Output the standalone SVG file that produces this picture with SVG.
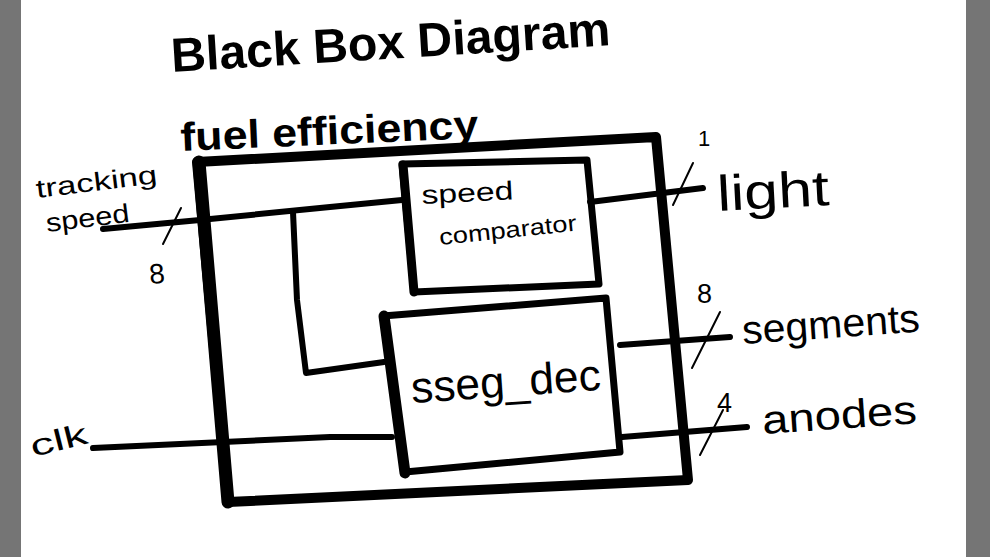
<svg xmlns="http://www.w3.org/2000/svg" width="990" height="557" viewBox="0 0 990 557">
<style>
.box{fill:none;stroke:#000;stroke-linejoin:round;stroke-linecap:round}
.wire{fill:none;stroke:#000;stroke-width:6;stroke-linecap:round;stroke-linejoin:round}
.tick{fill:none;stroke:#000;stroke-width:2;stroke-linecap:round}
.hand{font-family:"Liberation Sans","DejaVu Sans",sans-serif;fill:#000}
.bold{font-weight:bold}
</style>
<rect x="0" y="0" width="990" height="557" fill="#ffffff"/>
<rect x="0" y="0" width="21" height="557" fill="#757575"/>
<rect x="966" y="0" width="24" height="557" fill="#757575"/>

<text class="hand bold" x="172" y="72" font-size="48" textLength="440" lengthAdjust="spacingAndGlyphs" transform="rotate(-3.5 172 72)">Black Box Diagram</text>

<g id="fuel_efficiency">
<path class="box" d="M197,162 L656,137 L688,480 L228,502 Z" stroke-width="10"/>
<path class="box" d="M199,162 L228,502" stroke-width="13"/>
<text class="hand bold" x="181" y="151" font-size="40" textLength="298" lengthAdjust="spacingAndGlyphs" transform="rotate(-2.5 181 151)">fuel efficiency</text>
</g>

<g id="speed_comparator">
<path class="box" d="M402,164 L587,160 L599,284 L414,292 Z" stroke-width="7"/>
<path class="box" d="M403,165 L414,292" stroke-width="9"/>
<text class="hand" x="422" y="204" font-size="26" textLength="92" lengthAdjust="spacingAndGlyphs" transform="rotate(-3 422 204)">speed</text>
<text class="hand" x="440" y="245" font-size="23" textLength="138" lengthAdjust="spacingAndGlyphs" transform="rotate(-6 440 245)">comparator</text>
</g>

<g id="sseg_dec">
<path class="box" d="M383,316 L606,298 L620,452 L405,472 Z" stroke-width="7"/>
<path class="box" d="M384,316 L405,473" stroke-width="11"/>
<text class="hand" x="412" y="403" font-size="44" textLength="190" lengthAdjust="spacingAndGlyphs" transform="rotate(-4 412 403)">sseg_dec</text>
</g>

<g id="connectors">
<path class="wire" d="M103,229 L200,220 L330,207 L402,200"/>
<path class="wire" d="M293,212 L297,300 L306,373 L384,362"/>
<path class="wire" d="M590,202 L703,188"/>
<path class="wire" d="M93,448 L330,437 L392,437"/>
<path class="wire" d="M620,345 L730,337"/>
<path class="wire" d="M622,437 L747,427"/>
<path class="tick" d="M181,208 L163,244"/>
<path class="tick" d="M693,163 L673,205"/>
<path class="tick" d="M720,312 L692,368"/>
<path class="tick" d="M723,410 L700,455"/>
</g>

<g id="labels">
<text class="hand" x="37" y="198" font-size="26" textLength="122" lengthAdjust="spacingAndGlyphs" transform="rotate(-7 37 198)">tracking</text>
<text class="hand" x="47" y="232" font-size="26" textLength="84" lengthAdjust="spacingAndGlyphs" transform="rotate(-7 47 232)">speed</text>
<text class="hand" x="150" y="284" font-size="28" transform="rotate(-5 150 284)">8</text>
<text class="hand" x="33" y="457" font-size="30" textLength="58" lengthAdjust="spacingAndGlyphs" transform="rotate(-14 33 457)">clk</text>
<text class="hand" x="698" y="146" font-size="22">1</text>
<text class="hand" x="718" y="211" font-size="50" textLength="112" lengthAdjust="spacingAndGlyphs" transform="rotate(-3 718 211)">light</text>
<text class="hand" x="697" y="303" font-size="27">8</text>
<text class="hand" x="743" y="344" font-size="40" textLength="178" lengthAdjust="spacingAndGlyphs" transform="rotate(-4 743 344)">segments</text>
<text class="hand" x="717" y="412" font-size="27">4</text>
<text class="hand" x="763" y="434" font-size="40" textLength="155" lengthAdjust="spacingAndGlyphs" transform="rotate(-4 763 434)">anodes</text>
</g>
</svg>
